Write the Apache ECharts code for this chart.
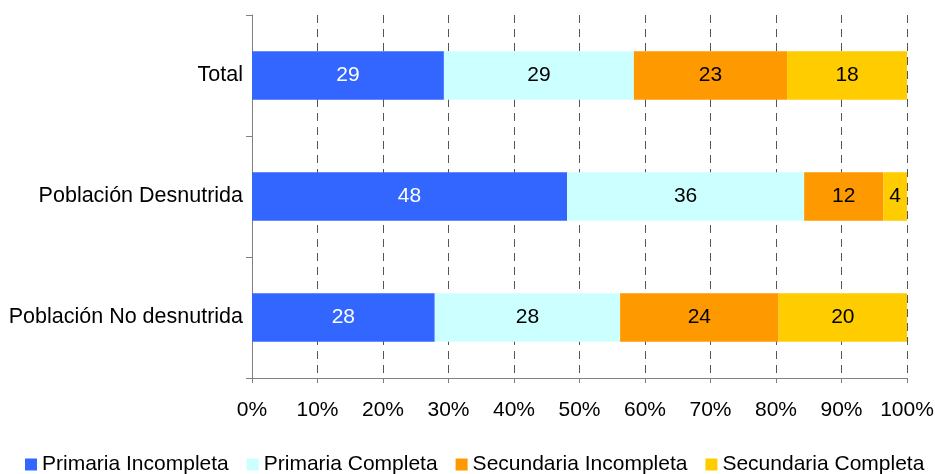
<!DOCTYPE html>
<html>
<head>
<meta charset="utf-8">
<script src="https://cdn.jsdelivr.net/npm/echarts@6/dist/echarts.min.js"></script>
<style>
  html, body { margin: 0; padding: 0; background: #fff; }
  #chart { width: 935px; height: 474px; }
</style>
</head>
<body>
<div id="chart"></div>
<script>
// Education level distribution (%) by nutritional status
const categories = ['Total', 'Población Desnutrida', 'Población No desnutrida'];
const seriesNames = ['Primaria Incompleta', 'Primaria Completa', 'Secundaria Incompleta', 'Secundaria Completa'];
const primariaIncompleta = [29.3, 48.1, 27.9];
const primariaCompleta = [29.0, 36.2, 28.3];
const secundariaIncompleta = [23.4, 12.1, 24.2];
const secundariaCompleta = [18.3, 3.6, 19.6];
const xTicks = [0, 10, 20, 30, 40, 50, 60, 70, 80, 90, 100];

const colors = ['#3366FF', '#CCFFFF', '#FF9900', '#FFCC00'];
const labelColors = ['#ffffff', '#000000', '#000000', '#000000'];
const values = [primariaIncompleta, primariaCompleta, secundariaIncompleta, secundariaCompleta];
const fontFamily = '"Liberation Sans", Arial, sans-serif';

const chart = echarts.init(document.getElementById('chart'));
chart.setOption({
  animation: false,
  textStyle: { fontFamily: fontFamily },
  grid: { left: 252, right: 28, top: 15, bottom: 96, outerBoundsMode: 'none', containLabel: false },
  xAxis: {
    type: 'value',
    min: xTicks[0],
    max: xTicks[xTicks.length - 1],
    interval: 10,
    axisLine: { show: true, lineStyle: { color: '#808080', width: 1 } },
    axisTick: { show: true, length: 5, lineStyle: { color: '#808080' } },
    axisLabel: {
      formatter: '{value}%', color: '#000', fontSize: 21, margin: 22, fontFamily: fontFamily
    },
    splitLine: {
      show: true,
      lineStyle: { color: '#555', type: [8, 6], width: 1 }
    }
  },
  yAxis: {
    type: 'category',
    data: categories,
    inverse: true,
    axisLine: { show: true, lineStyle: { color: '#808080', width: 1 } },
    axisTick: { show: true, length: 6, lineStyle: { color: '#808080' } },
    axisLabel: { color: '#000', fontSize: 21.5, margin: 9, fontFamily: fontFamily },
    splitLine: { show: false }
  },
  legend: {
    bottom: -6,
    left: 20,
    icon: 'rect',
    itemWidth: 12,
    itemHeight: 12,
    itemGap: 18,
    textStyle: { fontSize: 21, color: '#000', fontFamily: fontFamily },
    data: seriesNames
  },
  series: seriesNames.map((name, i) => ({
    name: name,
    type: 'bar',
    stack: 'total',
    barWidth: '40%',
    data: values[i],
    itemStyle: { color: colors[i] },
    label: {
      show: true,
      position: 'inside',
      color: labelColors[i],
      fontSize: 21,
      fontFamily: fontFamily,
      formatter: p => String(Math.round(p.value))
    }
  }))
});
</script>
</body>
</html>
